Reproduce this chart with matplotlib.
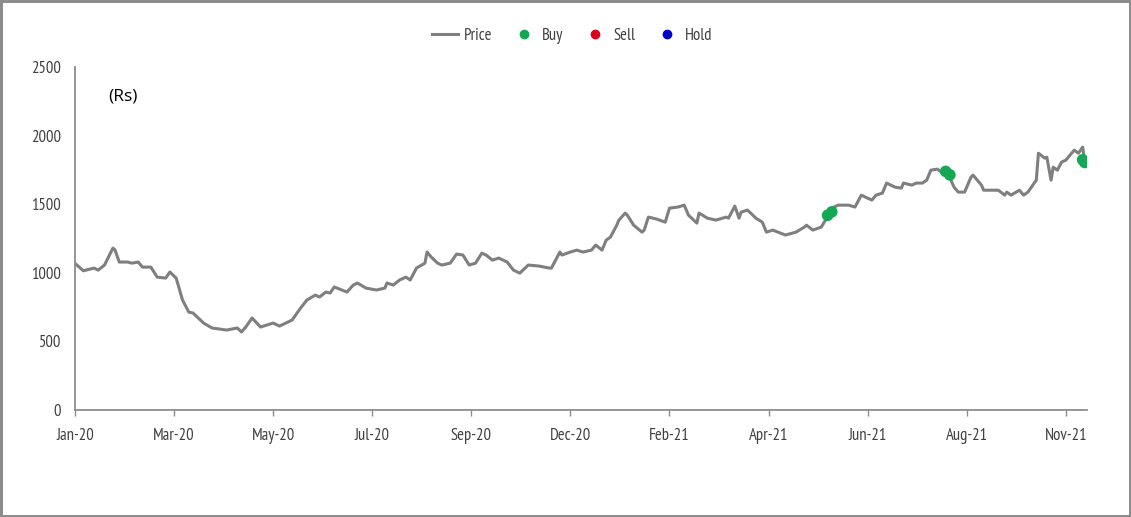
import numpy as np
import matplotlib
matplotlib.use('Agg')
import matplotlib.pyplot as plt
from matplotlib.lines import Line2D

# trading day index and closing price (Rs)
days = [0, 4, 9, 11, 14, 18, 19, 21, 25, 27, 30, 32, 36, 39, 43, 45, 48, 51, 54, 56,
        61, 65, 72, 77, 79, 81, 84, 88, 94, 97, 103, 107, 110, 114, 116, 119, 121, 123,
        129, 132, 134, 138, 143, 147, 148, 151, 154, 157, 159, 162, 166, 167, 169, 172,
        174, 178, 181, 184, 187, 190, 193, 195, 198, 201, 205, 208, 211, 215, 220, 225,
        226, 230, 231, 235, 238, 241, 245, 247, 250, 252, 254, 257, 258, 261, 262, 265,
        269, 270, 272, 276, 280, 282, 286, 289, 291, 295, 296, 300, 304, 309, 310, 313,
        315, 316, 319, 323, 326, 328, 331, 337, 342, 346, 347, 350, 354, 358, 360, 362,
        367, 370, 373, 375, 378, 380, 383, 385, 389, 392, 393, 397, 399, 402, 404, 406,
        409, 411, 414, 417, 419, 422, 425, 426, 430, 431, 435, 438, 441, 442, 444, 448,
        450, 452, 456, 457, 460, 461, 463, 464, 466, 468, 470, 474, 476, 478, 479]
price = [1069, 1015, 1035, 1020, 1057, 1181, 1166, 1079, 1079, 1071, 1079, 1042, 1042, 969,
         962, 1006, 962, 802, 714, 707, 634, 598, 583, 598, 569, 605, 671, 605, 634, 612,
         656, 743, 802, 838, 824, 860, 853, 897, 860, 911, 926, 889, 875, 889, 926, 911,
         948, 969, 948, 1035, 1071, 1152, 1115, 1071, 1057, 1071, 1137, 1130, 1057, 1071,
         1144, 1130, 1093, 1108, 1079, 1020, 998, 1057, 1050, 1035, 1035, 1152, 1130, 1152,
         1166, 1152, 1166, 1203, 1166, 1239, 1261, 1348, 1385, 1436, 1421, 1348, 1297, 1312,
         1407, 1392, 1370, 1472, 1480, 1494, 1421, 1363, 1436, 1399, 1385, 1407, 1399, 1487,
         1399, 1443, 1458, 1399, 1370, 1297, 1312, 1276, 1297, 1334, 1348, 1312, 1334, 1436,
         1480, 1494, 1494, 1480, 1567, 1552, 1531, 1567, 1582, 1655, 1625, 1618, 1655, 1640,
         1655, 1655, 1676, 1749, 1757, 1735, 1727, 1625, 1589, 1589, 1698, 1713, 1640, 1603,
         1603, 1603, 1567, 1589, 1567, 1603, 1567, 1589, 1676, 1873, 1837, 1844, 1676, 1771,
         1749, 1808, 1822, 1895, 1873, 1917, 1808]

buy_days = [357, 359, 413, 415, 478, 479]
buy_price = [1420, 1445, 1740, 1715, 1825, 1805]

tick_labels = ['Jan-20', 'Mar-20', 'May-20', 'Jul-20', 'Sep-20', 'Dec-20',
               'Feb-21', 'Apr-21', 'Jun-21', 'Aug-21', 'Nov-21']
tick_step = 47

tick_font = ['PT Sans Narrow', 'Roboto Condensed', 'DejaVu Sans']

fig = plt.figure(figsize=(11.31, 5.17), dpi=100)
fig.patch.set_edgecolor('#8c8c8c')
fig.patch.set_linewidth(2.5)
ax = fig.add_axes([0.0663, 0.207, 0.8947, 0.663])

ax.plot(days, price, color='#7f7f7f', lw=2.2, zorder=2)
ax.scatter(buy_days, buy_price, s=70, color='#14a855', zorder=3, edgecolors='none')

ax.set_xlim(0, 480)
ax.set_ylim(0, 2500)
ax.set_yticks(np.arange(0, 2501, 500))
ax.set_xticks([i * tick_step for i in range(len(tick_labels))])
ax.set_xticklabels(tick_labels)

for s in ['top', 'right']:
    ax.spines[s].set_visible(False)
for s in ['left', 'bottom']:
    ax.spines[s].set_color('#8c8c8c')
    ax.spines[s].set_linewidth(1.3)

ax.tick_params(axis='y', length=0, pad=10, labelsize=12, colors='#404040')
ax.tick_params(axis='x', length=4, width=1, color='#8c8c8c', pad=9, labelsize=12,
               labelcolor='#404040')
for lab in ax.get_xticklabels() + ax.get_yticklabels():
    lab.set_family(tick_font)

ax.text(0.033, 0.915, '(Rs)', transform=ax.transAxes, fontsize=12.5,
        family=['Open Sans', 'DejaVu Sans'], color='black', va='center')

handles = [Line2D([], [], color='#7f7f7f', lw=2.2),
           Line2D([], [], ls='', marker='o', ms=6, color='#14a855'),
           Line2D([], [], ls='', marker='o', ms=6, color='#e0001b'),
           Line2D([], [], ls='', marker='o', ms=6, color='#0000c8')]
leg = fig.legend(handles, ['Price', 'Buy', 'Sell', 'Hold'], loc='center',
                 bbox_to_anchor=(0.506, 0.93), ncol=4, frameon=False,
                 handlelength=1.6, handletextpad=0.3, columnspacing=1.1,
                 prop={'family': tick_font, 'size': 12})
for t in leg.get_texts():
    t.set_color('#404040')

fig.savefig('out.png', dpi=100, edgecolor=fig.get_edgecolor())
